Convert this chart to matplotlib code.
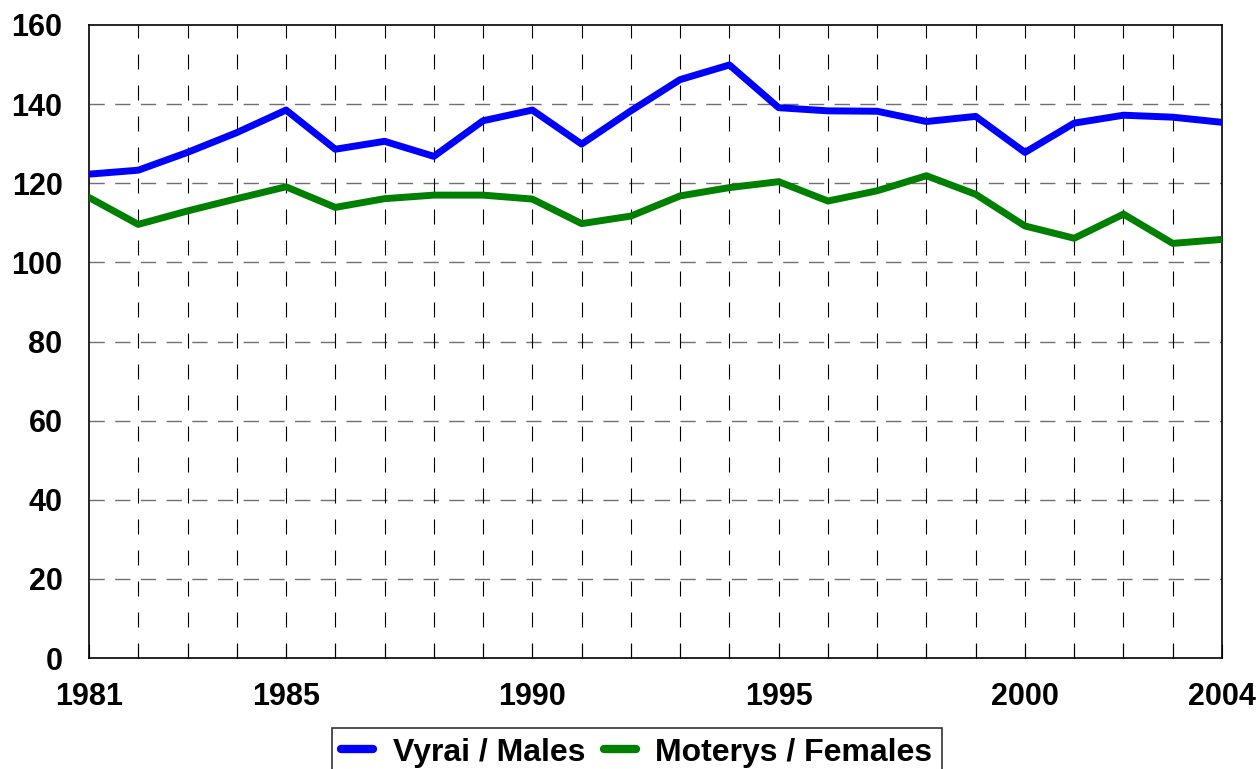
import numpy as np
import matplotlib.pyplot as plt

years = list(range(1981, 2005))
males = [122.3, 123.3, 127.8, 132.8, 138.5, 128.6, 130.6, 126.8, 135.8, 138.5,
         129.9, 138.3, 146.2, 149.9, 139.1, 138.3, 138.2, 135.6, 136.9, 127.8,
         135.2, 137.2, 136.7, 135.4]
females = [116.4, 109.6, 113.0, 116.1, 119.1, 113.9, 116.1, 117.0, 117.0, 116.0,
           109.8, 111.7, 116.8, 118.9, 120.4, 115.5, 118.1, 121.9, 117.2, 109.2,
           106.1, 112.2, 104.8, 105.8]
xlabels = [1981, 1985, 1990, 1995, 2000, 2004]

plt.rcParams['font.family'] = ['Liberation Sans', 'DejaVu Sans']
plt.rcParams['font.weight'] = 'bold'

fig = plt.figure(figsize=(12.58, 7.69), dpi=100)
ax = fig.add_axes([89/1258, 1-658/769, (1222-89)/1258, (658-25)/769])

# grid
for y in range(20, 160, 20):
    ax.axhline(y, color='#707070', lw=1, dashes=(11, 7.5), zorder=1)
for x in years[1:-1]:
    ax.axvline(x, color='black', lw=0.8, dashes=(13.5, 14.4), zorder=1)

ax.plot(years, males, color='#0000ff', lw=5, label='Vyrai / Males', zorder=3)
ax.plot(years, females, color='#008000', lw=5, label='Moterys / Females', zorder=3)

ax.set_xlim(1981, 2004)
ax.set_ylim(0, 160)
ax.set_yticks(range(0, 161, 20))
ax.set_xticks(xlabels)
ax.set_xticks(years, minor=True)
ax.tick_params(axis='x', which='both', direction='in', length=10, width=0.8, pad=17, labelsize=22)
ax.tick_params(axis='y', length=0, pad=19, labelsize=22)
for s in ax.spines.values():
    s.set_linewidth(1.2)

leg = fig.legend(loc='upper center', bbox_to_anchor=(637/1258, 1-728/769), ncol=2,
                 fontsize=23, frameon=True, fancybox=False, edgecolor='black',
                 handlelength=1.0, handletextpad=0.6, columnspacing=0.6,
                 borderpad=0.3, borderaxespad=0)
leg.get_frame().set_linewidth(1.2)
for h in leg.get_lines():
    h.set_linewidth(6)
    h.set_solid_capstyle('round')

fig.savefig('out.png', dpi=100)
